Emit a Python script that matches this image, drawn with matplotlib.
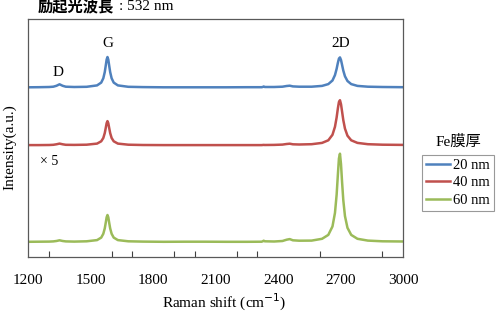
import matplotlib
matplotlib.use('Agg')
import matplotlib.pyplot as plt

plt.rcParams['font.family'] = ['Liberation Serif', 'Noto Sans CJK JP']

# Raman shift grid (cm-1) and stacked intensities
shift = [1200, 1250, 1300, 1320, 1335, 1350, 1365, 1380, 1420, 1480,
         1530, 1550, 1560, 1567, 1572, 1576, 1580, 1584, 1588, 1593,
         1600, 1610, 1630, 1680, 1750, 1850, 1950, 2050, 2150, 2250,
         2320, 2325, 2330, 2335, 2380, 2420, 2440, 2455, 2470, 2500,
         2560, 2610, 2640, 2660, 2672, 2680, 2686, 2691, 2696, 2701,
         2706, 2712, 2720, 2732, 2750, 2780, 2830, 2900, 3000]

fe20 = [170.0, 170.1, 170.3, 170.6, 171.5, 173.0, 171.5, 170.6, 170.3, 170.5,
        171.9, 174.7, 179.0, 185.2, 192.0, 197.7, 200.3, 197.7, 192.0, 185.2,
        179.0, 174.7, 171.9, 170.5, 170.2, 170.0, 170.0, 170.0, 170.0, 170.1,
        170.1, 170.3, 170.8, 170.3, 170.3, 170.6, 171.3, 171.6, 170.9, 170.6,
        170.6, 171.4, 173.2, 176.8, 182.2, 188.5, 194.5, 198.7, 199.9, 197.3,
        192.5, 186.7, 181.0, 176.3, 173.2, 171.4, 170.6, 170.3, 170.1]

fe40 = [112.2, 112.2, 112.3, 112.5, 113.0, 113.7, 113.0, 112.5, 112.4, 112.6,
        113.7, 116.0, 119.3, 124.2, 129.6, 134.1, 136.2, 134.1, 129.6, 124.2,
        119.3, 116.0, 113.7, 112.6, 112.3, 112.2, 112.2, 112.2, 112.2, 112.2,
        112.2, 112.3, 112.4, 112.3, 112.4, 112.7, 113.3, 113.6, 113.0, 112.8,
        113.1, 114.4, 117.0, 122.5, 130.5, 139.9, 149.0, 155.3, 157.1, 153.1,
        145.9, 137.2, 128.7, 121.6, 117.0, 114.4, 113.1, 112.6, 112.4]

fe60 = [15.5, 15.6, 15.7, 15.9, 16.3, 17.0, 16.3, 15.9, 15.7, 16.0,
        17.2, 19.7, 23.5, 28.9, 34.9, 40.0, 42.3, 40.0, 34.9, 28.9,
        23.5, 19.7, 17.2, 16.0, 15.7, 15.5, 15.6, 15.6, 15.5, 15.5,
        15.6, 16.0, 16.6, 16.0, 15.8, 16.3, 17.6, 18.2, 17.0, 16.6,
        16.7, 18.5, 22.4, 30.8, 44.4, 62.6, 82.8, 98.8, 103.6, 93.1,
        75.6, 57.1, 41.2, 29.5, 22.4, 18.5, 16.7, 16.0, 15.8]

labels = ['20 nm', '40 nm', '60 nm']
colors = ['#4F81BD', '#C0504D', '#9BBB59']
xticks = [1200, 1500, 1800, 2100, 2400, 2700, 3000]
minor_ticks = [1300, 1500, 1600, 1700, 1900, 2000, 2200, 2300, 2400, 2600, 2700, 2900]

fig = plt.figure(figsize=(4.98, 3.13), dpi=100)
ax = fig.add_axes([28.3 / 498, 1 - 257.3 / 313, 375 / 498, 238.3 / 313])

for ys, lab, c in zip([fe20, fe40, fe60], labels, colors):
    ax.plot(shift, ys, color=c, lw=1.8, label=lab)

ax.set_xlim(1200, 3000)
ax.set_ylim(0, 238.3)
ax.set_yticks([])
ax.set_xticks(xticks)
ax.set_xticks(minor_ticks, minor=True)
ax.tick_params(axis='x', which='major', length=0, pad=12, labelsize=11)
ax.tick_params(axis='x', which='minor', direction='in', length=4, width=0.8, color='#404040')
for sp in ax.spines.values():
    sp.set_color('#595959')
    sp.set_linewidth(0.9)

# peak labels
ax.text(1345, 185, 'D', fontsize=11, ha='center', va='center')
ax.text(1580, 214, 'G', fontsize=11, ha='center', va='center')
ax.text(2700, 214, '2D', fontsize=11, ha='center', va='center')
ax.text(1300, 96, '× 5', fontsize=10, ha='center', va='center')

fig.text(38 / 498, 1 - 7 / 313, '励起光波長', fontsize=11, weight='bold',
         ha='left', va='center')
fig.text(119 / 498, 1 - 7 / 313, ': 532 nm', fontsize=11,
         ha='left', va='center')
fig.text(10 / 498, 1 - 147 / 313, 'Intensity(a.u.)', fontsize=11, rotation=90,
         ha='center', va='center')
fig.text(224 / 498, 1 - 302 / 313, 'Raman shift (cm$^{-1}$)', fontsize=11,
         ha='center', va='center')

fig.text(458 / 498, 1 - 142 / 313, 'Fe膜厚', fontsize=11, ha='center', va='center')
leg = ax.legend(loc='upper left', bbox_to_anchor=(422 / 498, 1 - 155 / 313),
                bbox_transform=fig.transFigure, borderaxespad=0, fontsize=10.5,
                handlelength=1.7, handletextpad=0.2, labelspacing=0.3,
                borderpad=0.25, fancybox=False, frameon=True)
leg.get_frame().set_edgecolor('#808080')
leg.get_frame().set_linewidth(0.8)

fig.savefig('out.png', dpi=100)
